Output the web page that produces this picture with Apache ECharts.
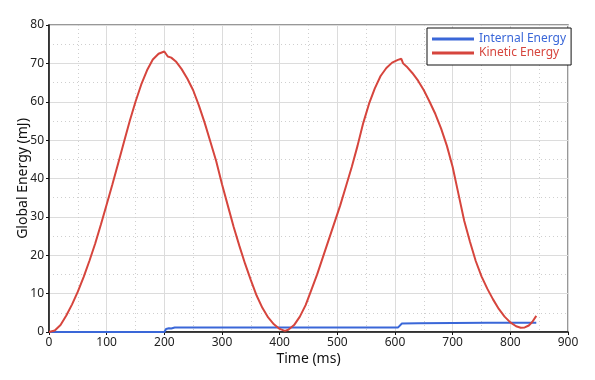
<!DOCTYPE html>
<html><head><meta charset="utf-8">
<script src="https://cdn.jsdelivr.net/npm/echarts@6/dist/echarts.min.js"></script>
<style>html,body{margin:0;padding:0;background:#fff}#c{width:595px;height:380px}</style>
</head><body><div id="c"></div>
<script>
const seriesNames = ["Internal Energy", "Kinetic Energy"];
const xTicks = [0,100,200,300,400,500,600,700,800,900];
const yTicks = [0,10,20,30,40,50,60,70,80];
const kineticTime = [0,10,20,30,40,50,60,70,80,90,100,110,120,130,140,150,160,170,180,190,200,203,206,212,220,230,240,250,260,270,280,290,300,310,320,330,340,350,360,370,380,390,400,409,415,425,435,445,455,465,475,485,495,505,515,525,535,545,555,565,575,585,595,605,611,614,620,630,640,650,660,670,680,690,700,710,720,730,740,750,760,770,780,790,800,810,818,825,832,838,845];
const kineticVal = [0,0.4,1.8,4.3,7.2,10.5,14.3,18.5,23,28,33.2,38.5,44,49.5,55,60,64.5,68.2,71,72.5,73.1,73.3,71.8,71.5,70.5,68.5,66,63,59,54.5,49.5,44.5,38.5,33,27.5,22.5,17.8,13.5,9.5,6.3,3.8,2,0.8,0.3,0.6,1.8,4,7,11,15,19.5,24,28.5,33,38,43,48.5,54.5,59.5,63.5,66.7,68.8,70.2,70.9,71.2,70,69.2,67.5,65.5,63,60,56.8,53,48.5,43,36,29,23.5,18.5,14.5,11.3,8.5,6,4,2.5,1.5,1.1,1.2,1.7,2.6,4.2];
const internalTime = [0,200,203,208,212,218,400,605,608,612,640,700,760,845];
const internalVal = [0,0,0.8,1.0,0.9,1.15,1.15,1.15,1.6,2.2,2.3,2.35,2.4,2.4];
const colors = ["#3a67d8", "#d6453d"];

const zip = (a,b) => a.map((t,i)=>[t,b[i]]);
const chart = echarts.init(document.getElementById('c'));
const font = 'Noto Sans';
chart.setOption({
  animation:false,
  grid:{left:49,right:27,top:25,bottom:48,show:true,borderColor:'#777',borderWidth:1.5,outerBoundsMode:'none',containLabel:false},
  legend:{
    orient:'vertical', left:427, top:28, padding:[4,5,5,5], itemGap:0,
    borderColor:'#111', borderWidth:1, backgroundColor:'#fff',
    itemWidth:42, itemHeight:3, icon:'rect',
    textStyle:{fontFamily:font,fontSize:12,lineHeight:14},
    data:[{name:seriesNames[0],textStyle:{color:colors[0]}},{name:seriesNames[1],textStyle:{color:colors[1]}}]
  },
  xAxis:{type:'value',min:0,max:900,interval:100,
    name:'Time (ms)',nameLocation:'middle',nameGap:20,nameMoveOverlap:false,
    nameTextStyle:{fontFamily:font,fontSize:14,color:'#111'},
    axisLine:{lineStyle:{color:'#111',width:1.5}},
    axisTick:{show:true,length:3,lineStyle:{color:'#111'}},
    axisLabel:{fontFamily:font,fontSize:12,color:'#222',margin:5,formatter:v=>xTicks.includes(v)?String(v):''},
    splitLine:{show:true,lineStyle:{color:'#dcdcdc',width:1}},
    minorTick:{show:false,splitNumber:2},
    minorSplitLine:{show:true,lineStyle:{color:'#cfcfcf',type:[1,3],width:1}}
  },
  yAxis:{type:'value',min:0,max:80,interval:10,
    name:'Global Energy (mJ)',nameLocation:'middle',nameGap:19,nameMoveOverlap:false,
    nameTextStyle:{fontFamily:font,fontSize:14,color:'#111'},
    axisLine:{show:true,lineStyle:{color:'#111',width:1.5}},
    axisTick:{show:true,length:3,lineStyle:{color:'#111'}},
    axisLabel:{fontFamily:font,fontSize:12,color:'#222',margin:5,formatter:v=>yTicks.includes(v)?String(v):''},
    splitLine:{show:true,lineStyle:{color:'#dcdcdc',width:1}},
    minorTick:{show:false,splitNumber:2},
    minorSplitLine:{show:true,lineStyle:{color:'#cfcfcf',type:[1,3],width:1}}
  },
  series:[
    {name:seriesNames[0],type:'line',data:zip(internalTime,internalVal),showSymbol:false,
     lineStyle:{color:colors[0],width:2},itemStyle:{color:colors[0]},z:2},
    {name:seriesNames[1],type:'line',data:zip(kineticTime,kineticVal),showSymbol:false,
     lineStyle:{color:colors[1],width:2},itemStyle:{color:colors[1]},z:3}
  ]
});
</script></body></html>
